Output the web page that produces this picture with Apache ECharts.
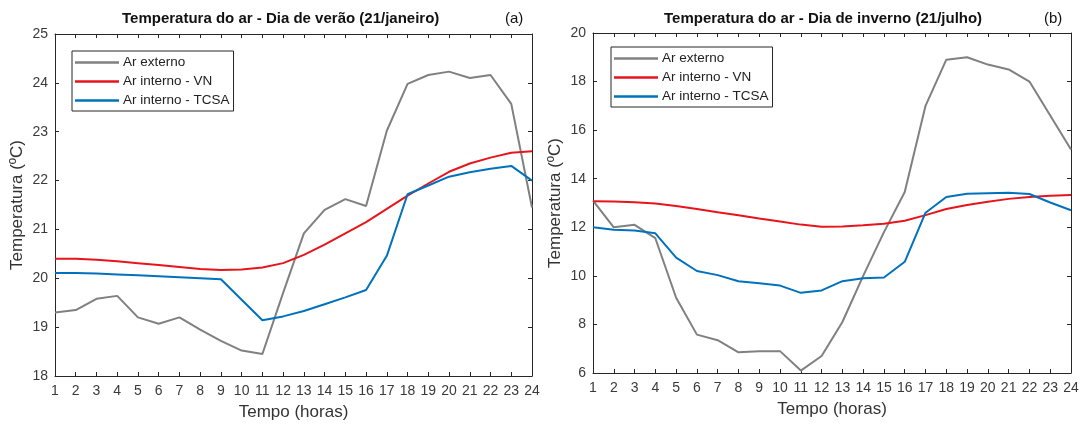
<!DOCTYPE html>
<html>
<head>
<meta charset="utf-8">
<script src="https://cdn.jsdelivr.net/npm/echarts@6/dist/echarts.min.js"></script>
<style>
    html, body { margin: 0; padding: 0; background: #fff; }
    #chart { width: 1083px; height: 426px; }
</style>
</head>
<body>
<div id="chart"></div>
<script>
const hours = [1, 2, 3, 4, 5, 6, 7, 8, 9, 10, 11, 12, 13, 14, 15, 16, 17, 18, 19, 20, 21, 22, 23, 24]
const seriesNames = ['Ar externo', 'Ar interno - VN', 'Ar interno - TCSA']

// (a) verao - 21/janeiro
const verExterno = [19.30, 19.35, 19.58, 19.64, 19.20, 19.07, 19.20, 18.95, 18.72, 18.52, 18.45, 19.70, 20.92, 21.40, 21.62, 21.48, 23.02, 23.98, 24.16, 24.23, 24.10, 24.16, 23.57, 21.45]
const verVN = [20.40, 20.40, 20.38, 20.35, 20.31, 20.27, 20.23, 20.19, 20.17, 20.18, 20.22, 20.31, 20.48, 20.69, 20.92, 21.15, 21.42, 21.69, 21.94, 22.18, 22.35, 22.47, 22.57, 22.60]
const verTCSA = [20.11, 20.11, 20.10, 20.08, 20.06, 20.04, 20.02, 20.00, 19.98, 19.56, 19.14, 19.22, 19.33, 19.47, 19.61, 19.76, 20.46, 21.72, 21.90, 22.08, 22.17, 22.24, 22.30, 22.00]

// (b) inverno - 21/julho
const invExterno = [13.10, 12.00, 12.10, 11.55, 9.10, 7.58, 7.35, 6.85, 6.90, 6.90, 6.10, 6.70, 8.10, 10.00, 11.80, 13.45, 17.00, 18.90, 19.00, 18.70, 18.50, 18.00, 16.60, 15.20]
const invVN = [13.07, 13.06, 13.03, 12.98, 12.88, 12.75, 12.62, 12.50, 12.36, 12.24, 12.11, 12.02, 12.03, 12.08, 12.15, 12.27, 12.50, 12.75, 12.92, 13.05, 13.17, 13.25, 13.30, 13.33]
const invTCSA = [12.00, 11.90, 11.87, 11.75, 10.75, 10.20, 10.03, 9.78, 9.70, 9.60, 9.30, 9.40, 9.78, 9.90, 9.93, 10.58, 12.60, 13.25, 13.38, 13.40, 13.42, 13.37, 13.02, 12.70]

const colors = ['#808080', '#e8141c', '#0072bd']
const FONT = 'Liberation Sans, Arial, sans-serif'
const AXIS_COLOR = '#262626'

const chart = echarts.init(document.getElementById('chart'))

function pairs(values) {
    return hours.map((h, i) => [h, values[i]])
}

function line(name, values, idx, color) {
    return {
        name: name,
        type: 'line',
        xAxisIndex: idx * 2,
        yAxisIndex: idx * 2,
        symbol: 'none',
        animation: false,
        lineStyle: { color: color, width: 2 },
        itemStyle: { color: color },
        data: pairs(values)
    }
}

function xAxes(gridIndex) {
    const base = {
        type: 'value',
        gridIndex: gridIndex,
        min: 1,
        max: 24,
        interval: 1,
        splitLine: { show: false },
        axisLine: { show: true, onZero: false, lineStyle: { color: AXIS_COLOR, width: 1 } },
        axisTick: { show: true, inside: true, length: 4, lineStyle: { color: AXIS_COLOR } }
    }
    return [
        Object.assign({}, base, {
            position: 'bottom',
            name: 'Tempo (horas)',
            nameLocation: 'middle',
            nameGap: 28,
            nameTextStyle: { fontFamily: FONT, fontSize: 17, color: '#333' },
            axisLabel: { fontFamily: FONT, fontSize: 14, color: '#3a3a3a', margin: 8 }
        }),
        Object.assign({}, base, { position: 'top', axisLabel: { show: false } })
    ]
}

function yAxes(gridIndex, min, max, interval) {
    const base = {
        type: 'value',
        gridIndex: gridIndex,
        min: min,
        max: max,
        interval: interval,
        splitLine: { show: false },
        axisLine: { show: true, onZero: false, lineStyle: { color: AXIS_COLOR, width: 1 } },
        axisTick: { show: true, inside: true, length: 4, lineStyle: { color: AXIS_COLOR } }
    }
    return [
        Object.assign({}, base, {
            position: 'left',
            name: 'Temperatura (ºC)',
            nameLocation: 'middle',
            nameGap: 29,
            nameTextStyle: { fontFamily: FONT, fontSize: 17, color: '#333' },
            axisLabel: { fontFamily: FONT, fontSize: 14, color: '#3a3a3a', margin: 7 }
        }),
        Object.assign({}, base, { position: 'right', axisLabel: { show: false } })
    ]
}

function legend(left, top) {
    return {
        orient: 'vertical',
        left: left,
        top: top,
        data: seriesNames,
        icon: 'rect',
        itemWidth: 44,
        itemHeight: 2.5,
        itemGap: 4,
        padding: [4, 4, 3, 3],
        borderColor: '#262626',
        borderWidth: 1,
        backgroundColor: '#fff',
        selectedMode: false,
        textStyle: { fontFamily: FONT, fontSize: 13.5, lineHeight: 15, color: '#222', padding: [0, 0, 0, -1] }
    }
}

function titleText(x, text, bold) {
    return {
        type: 'text',
        left: x,
        top: 11,
        style: {
            text: text,
            fontFamily: FONT,
            fontSize: 15,
            fontWeight: bold ? 'bold' : 'normal',
            fill: '#111'
        }
    }
}

const option = {
    backgroundColor: '#fff',
    animation: false,
    color: colors,
    grid: [
        { left: 55, top: 34, width: 477, height: 343 },
        { left: 593, top: 33, width: 478, height: 340 }
    ],
    xAxis: [...xAxes(0), ...xAxes(1)],
    yAxis: [...yAxes(0, 18, 25, 1), ...yAxes(1, 6, 20, 2)],
    legend: [legend(72, 51), legend(611, 47)],
    graphic: [
        titleText(122, 'Temperatura do ar - Dia de verão (21/janeiro)', true),
        titleText(505, '(a)', false),
        titleText(664, 'Temperatura do ar - Dia de inverno (21/julho)', true),
        titleText(1044, '(b)', false)
    ],
    series: [
        line(seriesNames[0], verExterno, 0, colors[0]),
        line(seriesNames[1], verVN, 0, colors[1]),
        line(seriesNames[2], verTCSA, 0, colors[2]),
        line(seriesNames[0], invExterno, 1, colors[0]),
        line(seriesNames[1], invVN, 1, colors[1]),
        line(seriesNames[2], invTCSA, 1, colors[2])
    ]
}

chart.setOption(option)
</script>
</body>
</html>
